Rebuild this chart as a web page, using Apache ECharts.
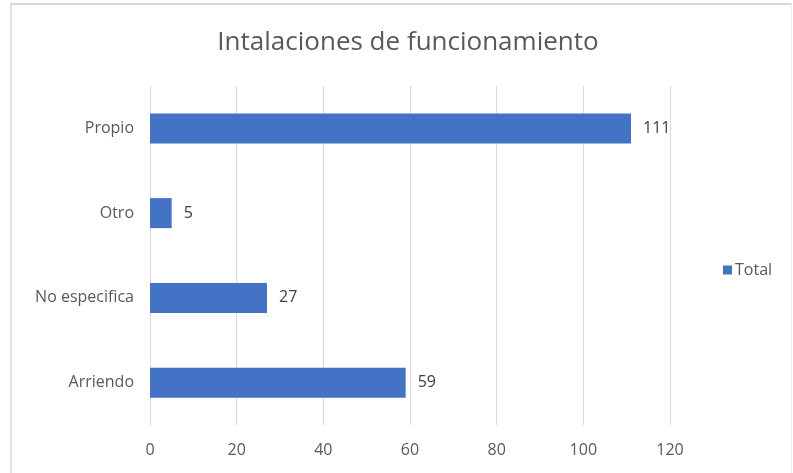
<!DOCTYPE html>
<html>
<head>
<meta charset="utf-8">
<script src="https://cdn.jsdelivr.net/npm/echarts@6/dist/echarts.min.js"></script>
<style>
html,body{margin:0;padding:0;background:#fff;}
#frame{position:absolute;left:10px;top:3px;width:782px;height:470px;border-top:2px solid #d9d9d9;border-left:2px solid #e3e3e3;border-right:1px solid #eeeeee;box-sizing:border-box;}
#chart{position:absolute;left:0;top:0;width:793px;height:473px;}
</style>
</head>
<body>
<div id="frame"></div>
<div id="chart"></div>
<script>
const categories = ['Arriendo', 'No especifica', 'Otro', 'Propio'];
const totals = [59, 27, 5, 111];
const seriesName = 'Total';
const chartTitle = 'Intalaciones de funcionamiento';

const chart = echarts.init(document.getElementById('chart'));
const font = '"Open Sans", "Liberation Sans", sans-serif';
chart.setOption({
  backgroundColor: 'transparent',
  animation: false,
  textStyle: { fontFamily: font },
  title: {
    text: chartTitle,
    left: 403,
    textAlign: 'center',
    top: 25,
    textStyle: { fontFamily: font, fontSize: 26, fontWeight: 'normal', color: '#595959' }
  },
  legend: {
    data: [seriesName],
    left: 718,
    top: 257,
    icon: 'rect',
    itemWidth: 9,
    itemHeight: 9,
    itemGap: 4,
    textStyle: { fontFamily: font, fontSize: 16, color: '#595959', padding: [0, 0, 0, -2] }
  },
  grid: { left: 150, right: 123, top: 86, bottom: 48, containLabel: false },
  xAxis: {
    type: 'value',
    min: 0,
    max: 120,
    interval: 20,
    axisLine: { show: false },
    axisTick: { show: false },
    splitLine: { show: true, lineStyle: { color: '#d9d9d9', width: 1 } },
    axisLabel: { fontFamily: font, fontSize: 16, color: '#595959', margin: 17 }
  },
  yAxis: {
    type: 'category',
    data: categories,
    axisLine: { show: true, lineStyle: { color: '#d9d9d9' } },
    axisTick: { show: false },
    axisLabel: { fontFamily: font, fontSize: 16, color: '#595959', margin: 16 }
  },
  series: [{
    name: seriesName,
    type: 'bar',
    data: totals,
    barWidth: 30,
    itemStyle: { color: '#4472C4' },
    label: { show: true, position: 'right', distance: 12, fontFamily: font, fontSize: 16, color: '#404040' }
  }]
});
</script>
</body>
</html>
